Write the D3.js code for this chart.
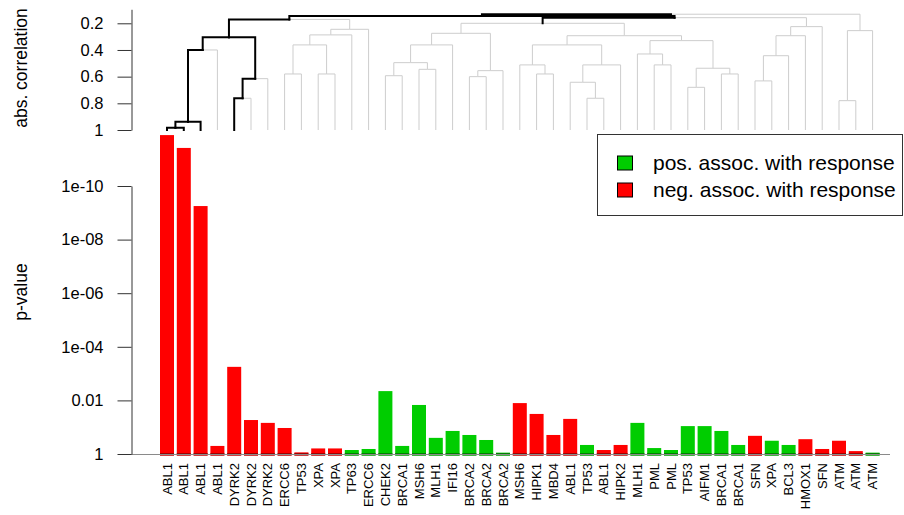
<!DOCTYPE html>
<html>
<head>
<meta charset="utf-8">
<script src="https://cdn.jsdelivr.net/npm/d3@7"></script>
<style>
  html, body { margin: 0; padding: 0; background: #fff; }
  svg { display: block; font-family: "Liberation Sans", Arial, Helvetica, sans-serif; }
</style>
</head>
<body>
<svg id="chart" width="904" height="515"></svg>
<script>
// Genes in dendrogram leaf order
const genes = ["ABL1","ABL1","ABL1","ABL1","DYRK2","DYRK2","DYRK2","ERCC6","TP53","XPA",
  "XPA","TP63","ERCC6","CHEK2","BRCA1","MSH6","MLH1","IFI16","BRCA2","BRCA2",
  "BRCA2","MSH6","HIPK1","MBD4","ABL1","TP53","ABL1","HIPK2","MLH1","PML",
  "PML","TP53","AIFM1","BRCA1","BRCA1","SFN","XPA","BCL3","HMOX1","SFN",
  "ATM","ATM","ATM"];

// Association p-values
const pValues = [1.26e-12, 3.8e-12, 5.6e-10, 0.50, 5.6e-4, 0.054, 0.069, 0.107, 0.87, 0.62,
  0.62, 0.71, 0.65, 0.0045, 0.50, 0.0148, 0.25, 0.138, 0.195, 0.30,
  0.89, 0.0126, 0.032, 0.195, 0.049, 0.46, 0.71, 0.46, 0.069, 0.60,
  0.71, 0.091, 0.091, 0.138, 0.46, 0.21, 0.32, 0.46, 0.28, 0.65,
  0.32, 0.78, 0.89];

// Direction of association with response
const direction = ["neg","neg","neg","neg","neg","neg","neg","neg","neg","neg",
  "neg","pos","pos","pos","pos","pos","pos","pos","pos","pos",
  "pos","neg","neg","neg","neg","pos","neg","neg","pos","pos",
  "pos","pos","pos","pos","pos","neg","pos","pos","neg","neg",
  "neg","neg","pos"];

// Hierarchical clustering merges: [left, right, abs. correlation]
// negative = leaf (1-based), positive = earlier merge (1-based)
const merges = [
  [-1, -2, 0.983], [1, -3, 0.938], [2, -4, 0.40], [-5, -6, 0.762], [4, -7, 0.615],
  [3, 5, 0.305], [-8, -9, 0.58], [-10, -11, 0.58], [7, 8, 0.362], [9, -12, 0.287],
  [10, -13, 0.245], [6, 11, 0.171], [-14, -15, 0.593], [-16, -17, 0.545], [13, 14, 0.495],
  [15, -18, 0.362], [-19, -20, 0.60], [17, -21, 0.555], [16, 18, 0.275], [-23, -24, 0.58],
  [-22, 20, 0.512], [-26, -27, 0.762], [-25, 22, 0.642], [23, -28, 0.512], [21, 24, 0.362],
  [-30, -31, 0.512], [-29, 26, 0.43], [-32, -33, 0.68], [-34, -35, 0.58], [28, 29, 0.537],
  [27, 30, 0.33], [25, 31, 0.293], [19, 32, 0.20], [-36, -37, 0.632], [34, -38, 0.443],
  [35, -39, 0.293], [36, -40, 0.225], [-41, -42, 0.78], [38, -43, 0.255], [33, 37, 0.158],
  [12, 40, 0.145], [41, 39, 0.132]
];

// Branches drawn in black
const highlightedLeaves = [1, 2, 3, 5];
const highlightedMerges = [1, 2, 3, 4, 5, 6, 12, 33, 40, 41];

const pTicks = [1, 1e-2, 1e-4, 1e-6, 1e-8, 1e-10];
const pTickLabels = ["1", "0.01", "1e-04", "1e-06", "1e-08", "1e-10"];
const corTicks = [0.2, 0.4, 0.6, 0.8, 1];
const corTickLabels = ["0.2", "0.4", "0.6", "0.8", "1"];
const legendKeys = ["pos", "neg"];
const legendLabels = ["pos. assoc. with response", "neg. assoc. with response"];

const colors = { pos: "#00CD00", neg: "#FF0000" };

const svg = d3.select("#chart");

// Scales
const x = d3.scaleBand()
  .domain(d3.range(genes.length))
  .range([158.6, 881])
  .paddingInner(1 / 6)
  .paddingOuter(1 / 12);
const xc = i => x(i) + x.bandwidth() / 2;

const yP = d3.scaleLog().domain([1, 1e-10]).range([454, 186]);
const yC = d3.scaleLinear().domain([1, 0.2]).range([130, 23.3]);

// ---------- Dendrogram ----------
const mergePos = [];
const nodePos = ref => ref < 0 ? { x: xc(-ref - 1), y: yC(1) } : mergePos[ref - 1];
const edges = [];
merges.forEach(([a, b, h], k) => {
  const pa = nodePos(a), pb = nodePos(b);
  const p = { x: (pa.x + pb.x) / 2, y: yC(h) };
  mergePos.push(p);
  [[a, pa], [b, pb]].forEach(([ref, c]) => {
    const black = ref < 0 ? highlightedLeaves.includes(-ref) : highlightedMerges.includes(ref);
    edges.push({ d: `M${c.x},${c.y}V${p.y}H${p.x}`, black });
  });
});

const dendro = svg.append("g").attr("fill", "none");
dendro.selectAll("path.g")
  .data(edges.filter(e => !e.black))
  .join("path")
  .attr("d", e => e.d)
  .attr("stroke", "#cdcdcd")
  .attr("stroke-width", 1);
dendro.selectAll("path.b")
  .data(edges.filter(e => e.black))
  .join("path")
  .attr("d", e => e.d)
  .attr("stroke", "#000")
  .attr("stroke-width", 2)
  .attr("stroke-linecap", "square");

// Correlation axis
const yCAxisScale = d3.scaleLinear().domain([1, 0.095]).range([yC(1), yC(0.095)]);
const corAxis = svg.append("g")
  .attr("transform", "translate(131.5,0)")
  .call(d3.axisLeft(yCAxisScale)
    .tickValues(corTicks)
    .tickFormat((d, i) => corTickLabels[i])
    .tickSize(14)
    .tickSizeOuter(0)
    .tickPadding(14));

// ---------- Bars ----------
const base = yP(1);
svg.append("g")
  .selectAll("rect")
  .data(pValues)
  .join("rect")
  .attr("x", (d, i) => x(i))
  .attr("y", d => yP(d))
  .attr("width", x.bandwidth())
  .attr("height", d => base - yP(d) + 1.5)
  .attr("fill", (d, i) => colors[direction[i]]);

// darker strip where bars meet the baseline
svg.append("g")
  .selectAll("rect")
  .data(pValues)
  .join("rect")
  .attr("x", (d, i) => x(i))
  .attr("y", base - 1)
  .attr("width", x.bandwidth())
  .attr("height", 2.5)
  .attr("fill", (d, i) => d3.color(colors[direction[i]]).darker(1.3));

svg.append("line")
  .attr("x1", 131).attr("x2", 890)
  .attr("y1", base + 0.5).attr("y2", base + 0.5)
  .attr("stroke", "#8a8a8a")
  .attr("stroke-width", 1);

// p-value axis
const pAxis = svg.append("g")
  .attr("transform", "translate(131.5,0)")
  .call(d3.axisLeft(yP)
    .tickValues(pTicks)
    .tickFormat((d, i) => pTickLabels[i])
    .tickSize(14)
    .tickSizeOuter(0)
    .tickPadding(14));

[corAxis, pAxis].forEach(g => {
  g.selectAll("path, line").attr("stroke", "#333");
  g.selectAll("text").attr("font-size", 16.5).attr("fill", "#000")
    .attr("font-family", "Liberation Sans, Arial, sans-serif");
});

// Gene labels
svg.append("g")
  .selectAll("text")
  .data(genes)
  .join("text")
  .attr("transform", (d, i) => `translate(${xc(i)},463) rotate(-90)`)
  .attr("text-anchor", "end")
  .attr("dy", "0.35em")
  .attr("font-size", 13)
  .attr("fill", "#000")
  .text(d => d);

// Axis titles
svg.append("text")
  .attr("transform", "translate(21,68) rotate(-90)")
  .attr("text-anchor", "middle")
  .attr("dy", "0.35em")
  .attr("font-size", 17.5)
  .text("abs. correlation");
svg.append("text")
  .attr("transform", "translate(21,292) rotate(-90)")
  .attr("text-anchor", "middle")
  .attr("dy", "0.35em")
  .attr("font-size", 17.5)
  .text("p-value");

// Legend
const legend = svg.append("g");
legend.append("rect")
  .attr("x", 597.5).attr("y", 134.5)
  .attr("width", 305).attr("height", 81)
  .attr("fill", "#fff")
  .attr("stroke", "#333");
const li = legend.selectAll("g.item")
  .data(legendKeys)
  .join("g")
  .attr("transform", (d, i) => `translate(0,${163 + i * 27})`);
li.append("rect")
  .attr("x", 617.5).attr("y", -7)
  .attr("width", 15).attr("height", 14)
  .attr("fill", d => colors[d])
  .attr("stroke", "#000");
li.append("text")
  .attr("x", 653)
  .attr("dy", "0.35em")
  .attr("font-size", 21)
  .text((d, i) => legendLabels[i]);
</script>
</body>
</html>
